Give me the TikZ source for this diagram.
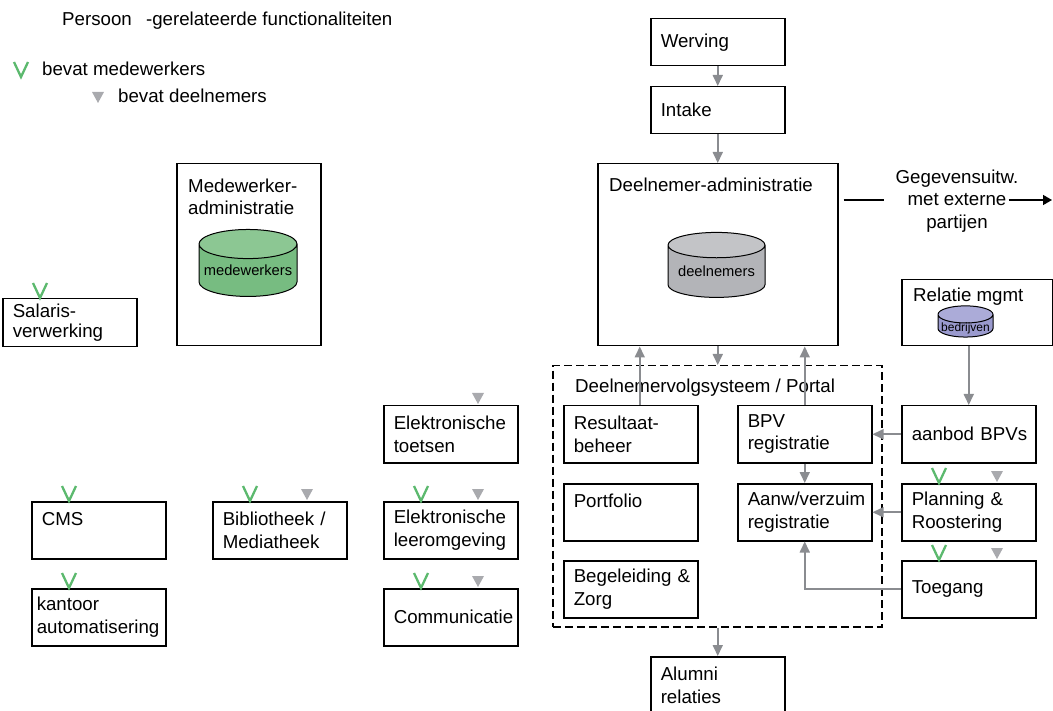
\documentclass[tikz,border=0pt]{standalone}
\usepackage{fontspec}
\setmainfont{Liberation Sans}
\usetikzlibrary{shapes.geometric,arrows.meta}
\hyphenpenalty=10000
\definecolor{flowgray}{HTML}{8A8C90}
\definecolor{markgreen}{HTML}{5CB96E}
\definecolor{markgray}{HTML}{A9AAAE}
\definecolor{medfill}{HTML}{77BC81}
\definecolor{medtop}{HTML}{8CC793}
\definecolor{delfill}{HTML}{B3B4B8}
\definecolor{deltop}{HTML}{C3C4C7}
\definecolor{bedfill}{HTML}{9A9ACE}
\definecolor{bedtop}{HTML}{ABABD8}

\tikzset{
  medmark/.pic={\draw[markgreen,line width=2.3pt] (-7,-15) -- (0,0) -- (7,-15);},
  delmark/.pic={\fill[markgray] (-6,-12) -- (6,-12) -- (0,-1) -- cycle;}
}

\begin{document}
\begin{tikzpicture}[x=1pt,y=-1pt,
    every node/.style={font=\fontsize{18.7}{22.5}\selectfont},
    box/.style={draw,line width=1.5pt,anchor=north west,align=left,text width=114pt,
      inner xsep=10pt,inner ysep=0pt,minimum width=134pt,minimum height=57pt},
    frame/.style={draw,line width=1.5pt,anchor=north west,inner sep=0pt},
    heading/.style={anchor=base west,inner sep=0pt},
    db/.style={cylinder,shape border rotate=90,aspect=0.33,draw,line width=1pt,
      cylinder uses custom fill,inner sep=0pt,font=\fontsize{14.7}{17}\selectfont}]
  \clip (0,0) rectangle (1053,711);

  % legend
  \node[heading] (ttl) at (62,26) {Persoon\hspace{9pt} -gerelateerde functionaliteiten};
  \node[heading] (legmed) at (42,76) {bevat medewerkers};
  \node[heading] (legdel) at (118,103) {bevat deelnemers};
  \pic at (21,77) {medmark};
  \pic at (98,104) {delmark};

  % medewerker side
  \node[frame,minimum width=144pt,minimum height=182pt] (madm) at (176,163) {};
  \node[heading,anchor=north west,align=left] (madmtxt) at (188,178.5) {Medewerker-\\administratie};
  \node[db,cylinder body fill=medfill,cylinder end fill=medtop,minimum width=98pt,minimum height=67pt] (mcyl) at (248,270.5) {medewerkers};
  \node[box,font=\fontsize{18.7}{20}\selectfont,minimum height=48pt] (salv) at (2,298) {Salaris-\\verwerking};
  \node[box] (cms) at (31,501) {CMS\\~};
  \node[box,inner xsep=5pt,text width=124pt] (kant) at (31,588) {kantoor\\automatisering};
  \node[box] (bibl) at (212,501) {Bibliotheek /\\Mediatheek};
  \node[box] (etst) at (383,405) {Elektronische\\toetsen};
  \node[box] (elo) at (383,501) {Elektronische\\leeromgeving};
  \node[box,align=center] (comm) at (383,588) {Communicatie};

  % deelnemer side
  \node[box,minimum height=47pt] (werv) at (650,18) {Werving};
  \node[box,minimum height=47pt] (intk) at (650,86) {Intake};
  \node[frame,minimum width=240pt,minimum height=182pt] (dadm) at (597,163) {};
  \node[heading] (dadmtxt) at (609,192) {Deelnemer-administratie};
  \node[db,cylinder body fill=delfill,cylinder end fill=deltop,minimum width=97pt,minimum height=65pt] (dcyl) at (716.5,271.5) {deelnemers};
  \node[align=center,inner xsep=0pt] (gegev) at (957,201) {Gegevensuitw.\\met externe\\partijen};
  \coordinate (extout) at (1052,200);

  \node[frame,minimum width=151pt,minimum height=66pt] (relm) at (901,279) {};
  \node[heading] (relmtxt) at (913,302) {Relatie mgmt};
  \node[db,cylinder body fill=bedfill,cylinder end fill=bedtop,minimum width=55pt,minimum height=26pt,
    text height=5pt,text depth=0pt,font=\fontsize{12.8}{15}\selectfont] (bcyl) at (965.5,326) {\phantom{bedrijven}};
  \node[inner sep=0pt,font=\fontsize{12}{14}\selectfont] (bcyltxt) at (965.5,328.5) {bedrijven};

  \node[frame,dashed,dash pattern=on 8pt off 4pt,minimum width=329pt,minimum height=261pt] (portal) at (552,365) {};
  \node[heading] (portaltxt) at (575,392) {Deelnemervolgsysteem / Portal};
  \node[box] (resb) at (563,405) {Resultaat-\\beheer};
  \node[box] (port) at (563,483) {Portfolio\\~};
  \node[box] (begz) at (563,560) {Begeleiding~\&\\Zorg};
  \node[box] (bpv) at (737,405) {BPV\\registratie};
  \node[box] (aanw) at (737,483) {Aanw/verzuim\\registratie};
  \node[box,align=center] (aanb) at (901,405) {aanbod~BPVs};
  \node[box] (plan) at (901,483) {Planning \&\\Roostering};
  \node[box] (toeg) at (901,560) {Toegang};
  \node[box] (alum) at (650,656) {Alumni\\relaties};

  % marks
  \pic at ([xshift=38pt]salv.north west) {medmark};
  \pic at ([xshift=38pt]cms.north west) {medmark};
  \pic at ([xshift=38pt]kant.north west) {medmark};
  \pic at ([xshift=38pt]bibl.north west) {medmark};
  \pic at ([xshift=95pt]bibl.north west) {delmark};
  \pic at ([xshift=95pt]etst.north west) {delmark};
  \pic at ([xshift=38pt]elo.north west) {medmark};
  \pic at ([xshift=95pt]elo.north west) {delmark};
  \pic at ([xshift=38pt]comm.north west) {medmark};
  \pic at ([xshift=95pt]comm.north west) {delmark};
  \pic at ([xshift=38pt]plan.north west) {medmark};
  \pic at ([xshift=96pt]plan.north west) {delmark};
  \pic at ([xshift=38pt]toeg.north west) {medmark};
  \pic at ([xshift=96pt]toeg.north west) {delmark};

  \begin{scope}[flowgray,line width=1.7pt,-{Triangle[length=11pt,width=10pt]}]
    \path (werv) edge (intk);
    \path (intk) edge (dadm);
    \path (dadm.south) edge (dadm.south |- portal.north);
    \path ([xshift=9pt]resb.north) edge ([xshift=9pt]resb.north |- dadm.south);
    \path (bpv.north) edge (bpv.north |- dadm.south);
    \path (bpv) edge (aanw);
    \path (relm.south -| aanb.north) edge (aanb.north);
    \path (aanb) edge (bpv);
    \path (plan) edge (aanw);
    \draw (toeg) -| (aanw);
    \path (portal.south -| alum.north) edge (alum.north);
  \end{scope}

  \draw[line width=1.5pt] ([xshift=5pt]dadm.east |- extout) -- ([xshift=-11pt]gegev.west |- extout);
  \draw[line width=1.5pt,-{Triangle[length=9pt,width=10pt]}] ([xshift=-10pt]gegev.east |- extout) -- (extout);
\end{tikzpicture}
\end{document}
